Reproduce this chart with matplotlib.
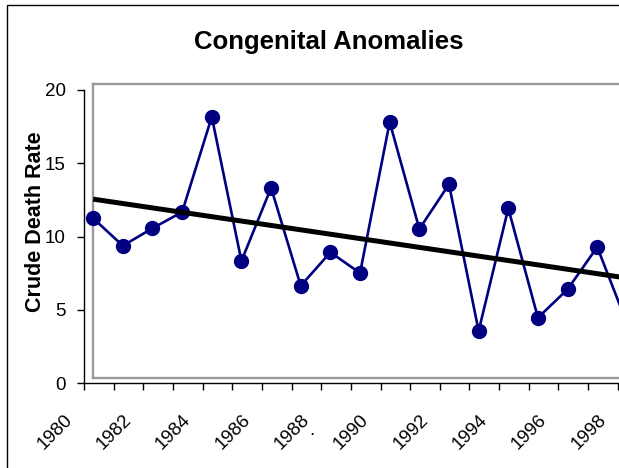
import numpy as np
import matplotlib
matplotlib.use("Agg")
import matplotlib.pyplot as plt
from matplotlib.patches import Rectangle
from matplotlib.transforms import ScaledTranslation

plt.rcParams['font.family'] = ['Liberation Sans', 'DejaVu Sans']

# %% data

years = np.arange(1980, 1999)
rate = [11.25, 9.38, 10.57, 11.68, 18.17, 8.34, 13.33, 6.65, 8.93, 7.52,
        17.81, 10.52, 13.57, 3.57, 11.93, 4.47, 6.41, 9.29, 4.1]
label_years = list(range(1980, 2000, 2))
y_ticks = [0, 5, 10, 15, 20]

# points sit a little to the right of their year tick in the original
x_shift = 0.31

# %% figure

W, H = 619, 468
fig = plt.figure(figsize=(W / 100, H / 100), dpi=100)

def px_box(left, top, right, bottom):
    return [left / W, 1 - bottom / H, (right - left) / W, (bottom - top) / H]

# outer chart border (runs off the right and bottom of the crop)
fig.patches.append(Rectangle((6.5 / W, 0 - 0.1), 2, 1 - 5 / H + 0.1,
                             transform=fig.transFigure, fill=False,
                             edgecolor='black', linewidth=1.0))

# gray plot-area frame
frame = fig.add_axes(px_box(93, 84, 720, 378))
frame.set_xticks([])
frame.set_yticks([])
for s in frame.spines.values():
    s.set_color('#9a9a9a')
    s.set_linewidth(1.7)
frame.set_zorder(0)

# main axes
ax = fig.add_axes(px_box(84, 90, 84 + 20 * 29.65, 383.3))
ax.patch.set_alpha(0)
ax.set_zorder(1)
ax.set_xlim(1980, 2000)
ax.set_ylim(0, 20)
ax.spines['top'].set_visible(False)
ax.spines['right'].set_visible(False)
ax.spines['left'].set_linewidth(1.0)
ax.spines['bottom'].set_linewidth(1.0)

ax.set_yticks(y_ticks)
ax.set_yticklabels([str(v) for v in y_ticks], fontsize=13.5)
ax.set_xticks(np.arange(1980, 2001))
ax.set_xticklabels([])
ax.tick_params(direction='out', length=5, width=1.0)
ax.tick_params(axis='y', pad=8)

xs = years + x_shift
ax.plot(xs, rate, color='#000080', linewidth=1.9, marker='o',
        markersize=10, zorder=3, clip_on=False)

# linear trend
coef = np.polyfit(years, rate, 1)
tx = np.array([xs[0], xs[-1]])
ax.plot(tx, np.polyval(coef, tx - x_shift), color='black', linewidth=3.6,
        zorder=4, solid_capstyle='butt', clip_on=False)

# rotated year labels
off = ScaledTranslation(-0.29, -0.49, fig.dpi_scale_trans)
for yr in label_years:
    ax.text(yr, 0, str(yr), transform=ax.transData + off, rotation=45,
            ha='center', va='center', fontsize=13.5, clip_on=False)

fig.text(312 / W, 1 - 435 / H, '.', ha='center', va='baseline', fontsize=13.5)

fig.text(329 / W, 1 - 49.5 / H, 'Congenital Anomalies', ha='center',
         va='baseline', fontsize=18.5, fontweight='bold')
fig.text(36 / W, 1 - 222 / H, 'Crude Death Rate', ha='center',
         va='center', rotation=90, fontsize=15.5, fontweight='bold')

fig.savefig('out.png', dpi=100)
